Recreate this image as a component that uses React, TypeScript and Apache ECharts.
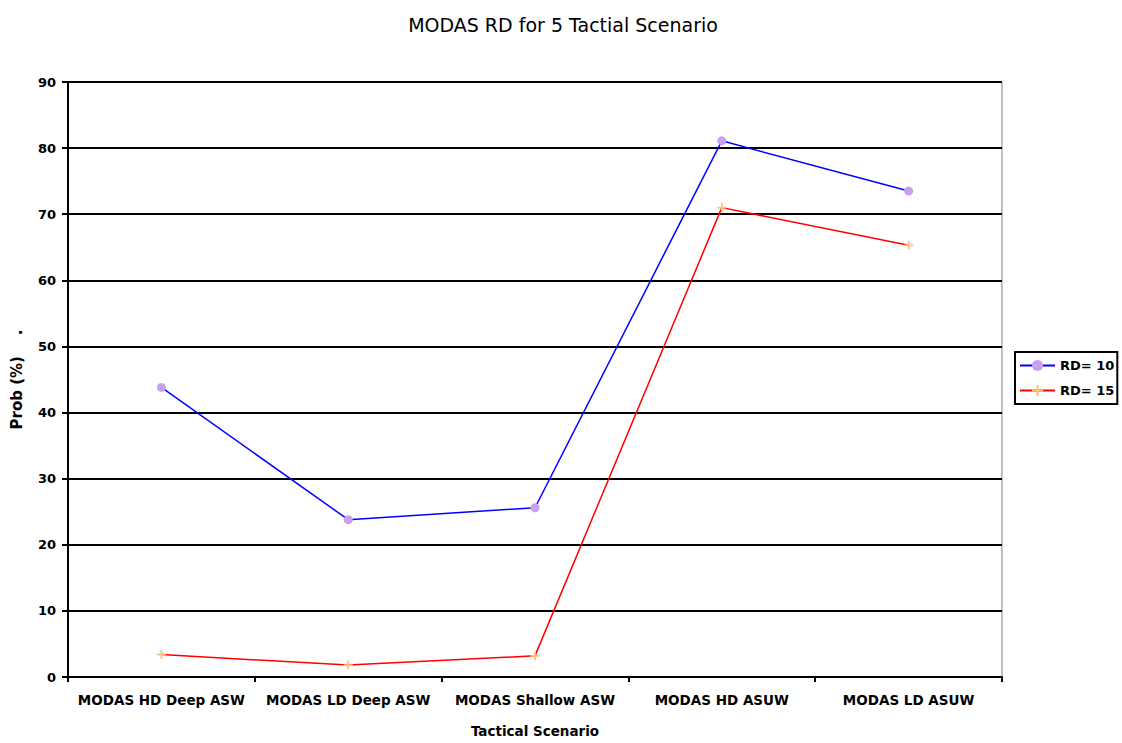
import React, { useEffect, useRef } from "react";
import * as echarts from "echarts";

const categories = [
  "MODAS HD Deep ASW",
  "MODAS LD Deep ASW",
  "MODAS Shallow ASW",
  "MODAS HD ASUW",
  "MODAS LD ASUW",
];
const rd10 = [43.8, 23.8, 25.6, 81.1, 73.5];
const rd15 = [3.4, 1.8, 3.2, 71.0, 65.3];
const seriesNames = ["RD= 10", "RD= 15"];

const FONT = "DejaVu Sans, Arial, sans-serif";
const PLUS = "path://M4,0 L6,0 L6,4 L10,4 L10,6 L6,6 L6,10 L4,10 L4,6 L0,6 L0,4 L4,4 Z";

export default function App() {
  const ref = useRef<HTMLDivElement>(null);
  useEffect(() => {
    const chart = echarts.init(ref.current!, undefined, { renderer: "svg" });
    chart.setOption({
      animation: false,
      backgroundColor: "#ffffff",
      title: {
        text: "MODAS RD for 5 Tactial Scenario",
        left: 558,
        textAlign: "center",
        top: 10,
        textStyle: { fontFamily: FONT, fontSize: 19, fontWeight: "normal", color: "#000" },
      },
      legend: {
        orient: "vertical",
        left: 1015,
        top: 352,
        padding: [7, 3, 7, 4],
        itemGap: 12,
        itemWidth: 35,
        itemHeight: 14,
        borderColor: "#000",
        borderWidth: 2,
        textStyle: { fontFamily: FONT, fontSize: 13, fontWeight: "bold", color: "#000" },
        data: seriesNames,
      },
      grid: {
        left: 68,
        right: 120,
        top: 82,
        bottom: 64,
        show: true,
        borderColor: "#808080",
        borderWidth: 1,
        backgroundColor: "#fff",
      },
      xAxis: {
        type: "category",
        data: categories,
        boundaryGap: true,
        name: "Tactical Scenario",
        nameLocation: "middle",
        nameGap: 47,
        nameTextStyle: { fontFamily: FONT, fontSize: 13.5, fontWeight: "bold", color: "#000" },
        axisLine: { lineStyle: { color: "#000", width: 2 } },
        axisTick: { show: true, length: 5, lineStyle: { color: "#000", width: 2 }, interval: 0 },
        axisLabel: {
          interval: 0,
          margin: 16,
          fontFamily: FONT,
          fontSize: 13.5,
          fontWeight: "bold",
          color: "#000",
        },
      },
      yAxis: {
        type: "value",
        min: 0,
        max: 90,
        interval: 10,
        name: "Prob (%)    .",
        nameLocation: "middle",
        nameGap: 44,
        nameTextStyle: { fontFamily: FONT, fontSize: 15, fontWeight: "bold", color: "#000" },
        axisLine: { show: true, lineStyle: { color: "#000", width: 2 } },
        axisTick: { show: true, length: 6, lineStyle: { color: "#000", width: 2 } },
        axisLabel: { margin: 12, fontFamily: FONT, fontSize: 13, fontWeight: "bold", color: "#000" },
        splitLine: { show: true, lineStyle: { color: "#000", width: 2 } },
      },
      series: [
        {
          name: seriesNames[0],
          type: "line",
          data: rd10,
          symbol: "circle",
          symbolSize: 9,
          itemStyle: { color: "#c8a0f4" },
          lineStyle: { color: "#0000ff", width: 1.5 },
        },
        {
          name: seriesNames[1],
          type: "line",
          data: rd15,
          symbol: PLUS,
          symbolSize: 9,
          itemStyle: { color: "#ffc080" },
          lineStyle: { color: "#ff0000", width: 1.5 },
        },
      ],
    });
    return () => chart.dispose();
  }, []);
  return <div ref={ref} style={{ width: 1122, height: 743, position: "absolute", left: 0, top: 0 }} />;
}
